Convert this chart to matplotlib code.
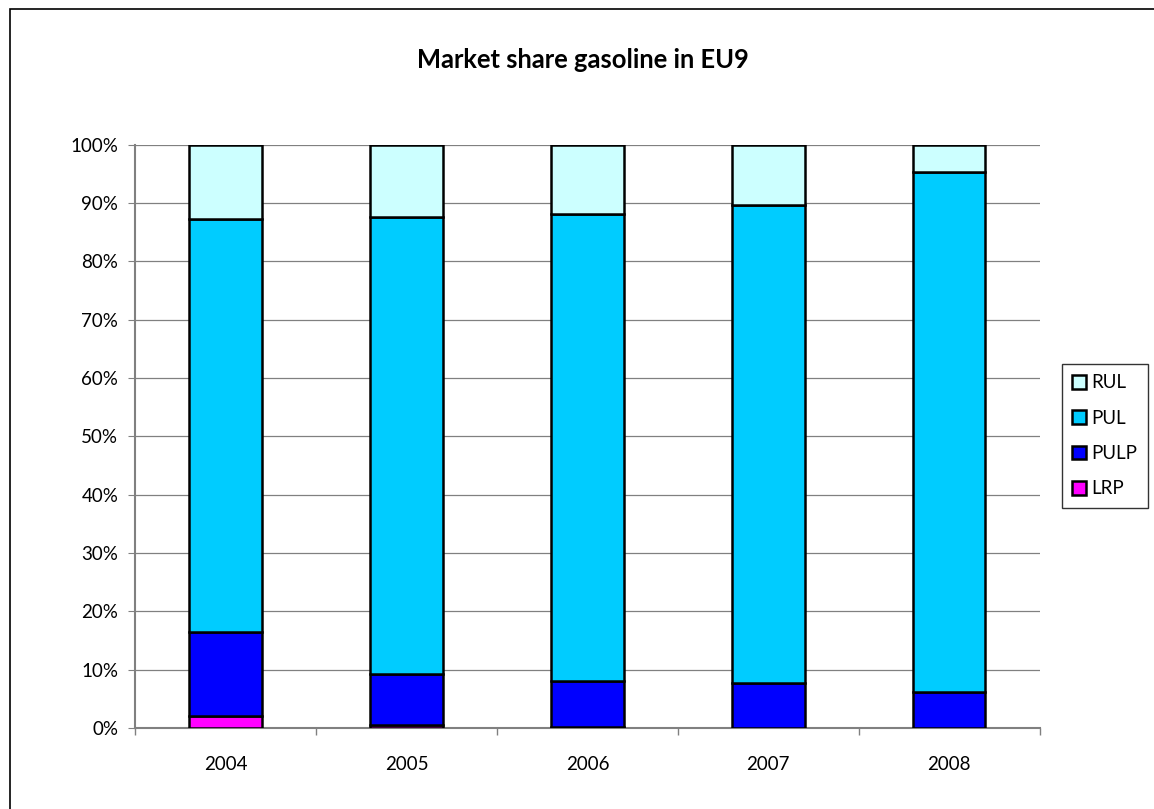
import matplotlib.pyplot as plt
from matplotlib.patches import Rectangle
from matplotlib.ticker import FixedLocator, PercentFormatter

years = ['2004', '2005', '2006', '2007', '2008']
lrp = [2.1, 0.6, 0.2, 0.1, 0.0]
pulp = [14.4, 8.7, 7.8, 7.6, 6.2]
pul = [70.8, 78.4, 80.1, 81.9, 89.2]
rul = [12.7, 12.3, 11.9, 10.4, 4.6]

plt.rcParams['font.family'] = ['Lato', 'DejaVu Sans']

fig = plt.figure(figsize=(11.54, 8.09), dpi=100)
# chart frame, runs off the right and bottom edges like the source image
fig.patches.append(Rectangle((0.0087, -0.05), 1.2, 1.039, transform=fig.transFigure,
                             fill=False, edgecolor='black', linewidth=1.2))
ax = fig.add_axes([0.117, 0.1, 0.784, 0.721])

x = range(len(years))
w = 0.4
bottom = [0.0] * len(years)
series = [('LRP', lrp, '#FF00FF'), ('PULP', pulp, '#0000FF'),
          ('PUL', pul, '#00CCFF'), ('RUL', rul, '#CCFFFF')]
handles = {}
for name, vals, col in series:
    b = ax.bar(x, vals, w, bottom=bottom, color=col, edgecolor='black',
               linewidth=1.8, label=name, zorder=3)
    handles[name] = b
    bottom = [bo + v for bo, v in zip(bottom, vals)]

ax.set_xlim(-0.5, len(years) - 0.5)
ax.set_ylim(0, 100)
ax.yaxis.set_major_locator(FixedLocator(range(0, 101, 10)))
ax.yaxis.set_major_formatter(PercentFormatter(decimals=0))
ax.set_xticks(list(x))
ax.set_xticklabels(years)
ax.tick_params(axis='x', length=0, labelsize=13.5, pad=20)
ax.set_xticks([i + 0.5 for i in range(-1, len(years))], minor=True)
ax.tick_params(axis='x', which='minor', length=5, color='#808080', width=1)
ax.tick_params(axis='y', length=5, color='#808080', labelsize=13.5, pad=7)
ax.grid(axis='y', color='#808080', linewidth=0.9, zorder=0)
for s in ['top', 'right']:
    ax.spines[s].set_visible(False)
for s in ['left', 'bottom']:
    ax.spines[s].set_color('#808080')
    ax.spines[s].set_linewidth(1.5)

fig.text(0.505, 0.926, 'Market share gasoline in EU9', fontsize=18.4, fontweight='bold',
         ha='center', va='center')

order = ['RUL', 'PUL', 'PULP', 'LRP']
leg = fig.legend([handles[n] for n in order], order, loc='upper left',
                 bbox_to_anchor=(0.920, 0.550), frameon=True, fancybox=False,
                 edgecolor='black', fontsize=13.5, handlelength=0.75, handleheight=0.75,
                 handletextpad=0.3, labelspacing=0.98, borderpad=0.55, borderaxespad=0)
leg.get_frame().set_linewidth(1)

fig.savefig('out.png', dpi=100)
